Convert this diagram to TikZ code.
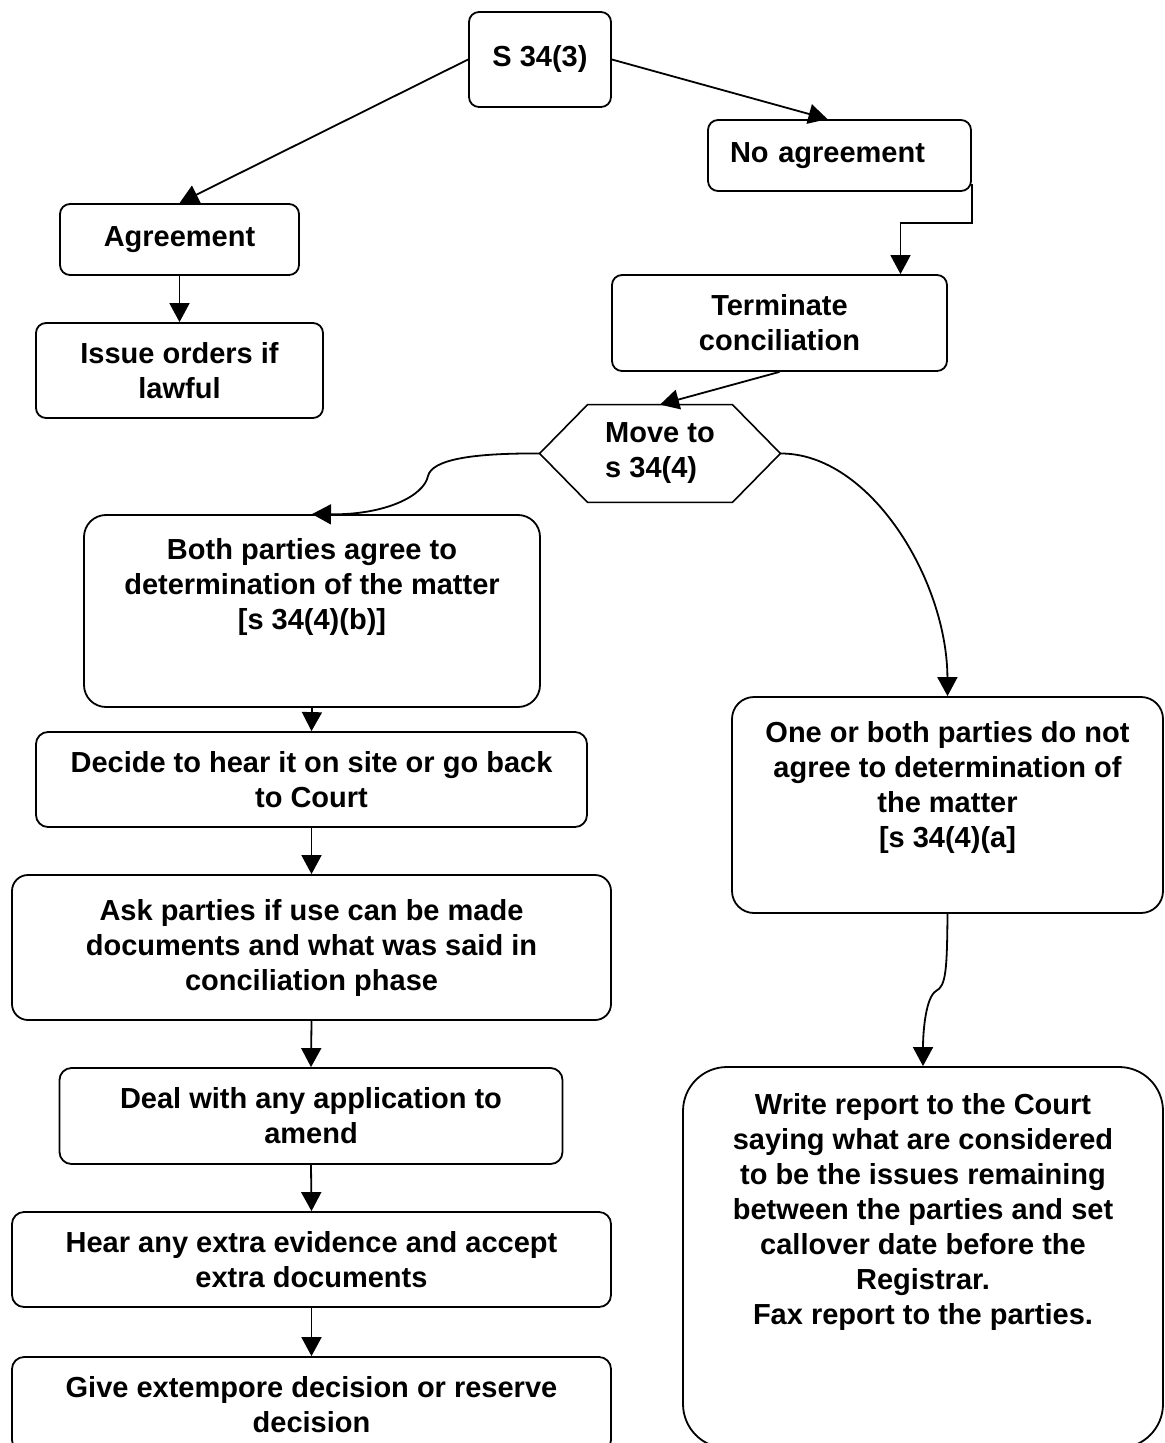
\documentclass[tikz,border=0pt]{standalone}
\usepackage{fontspec}
\setmainfont{Liberation Sans}
\usepackage{tikz}
\usetikzlibrary{arrows.meta,positioning}

\newcommand{\flowfont}{\fontsize{14.5}{17.5}\selectfont\bfseries}

\tikzset{
    stepbox/.style={draw, line width=0.9pt, rounded corners=5pt, inner sep=0pt, align=center, font=\flowfont},
    bigbox/.style={stepbox, rounded corners=11pt},
    flowtext/.style={inner sep=0pt, align=center, font=\flowfont},
    arr/.style={line width=0.9pt, -{Triangle[length=9.5pt,width=10pt]}},
}

\begin{document}
\begin{tikzpicture}[x=0.5pt, y=-0.5pt]
    \useasboundingbox (0,0) rectangle (1164,1443);

    \node[stepbox, minimum width=71pt, minimum height=47.5pt] (s343) at (540,59.5) {S 34(3)};
    \node[stepbox, align=left, inner xsep=11pt, text width=109.5pt, minimum height=35.5pt] (noagree) at (839.5,155.5) {No agreement};
    \node[stepbox, minimum width=119.5pt, minimum height=35.5pt] (agree) at (179.5,239.5) {Agreement};
    \node[stepbox, minimum width=143.5pt, minimum height=47.5pt] (issue) at (179.5,370.5) {Issue orders if\\lawful};
    \node[stepbox, minimum width=167.5pt, minimum height=48pt] (term) at (779.5,323) {Terminate\\conciliation};

    \node[flowtext, align=left, minimum width=120pt, minimum height=48.5pt] (move) at (660,453.5) {Move to\\s 34(4)};
    \draw[line width=0.8pt] (move.west) -- ([xshift=24pt]move.north west) -- ([xshift=-24pt]move.north east)
        -- (move.east) -- ([xshift=-24pt]move.south east) -- ([xshift=24pt]move.south west) -- cycle;

    \node[bigbox, minimum width=228pt, minimum height=96pt] (both) at (312,611) {};
    \node[flowtext, below=12pt of both.north] (bothtext) {Both parties agree to\\determination of the matter\\{}[s 34(4)(b)]};

    \node[stepbox, rounded corners=6pt, minimum width=275.5pt, minimum height=47.5pt] (decide) at (311.5,779.5) {Decide to hear it on site or go back\\to Court};
    \node[stepbox, rounded corners=8pt, minimum width=299.5pt, minimum height=72.5pt] (ask) at (311.5,947.5) {Ask parties if use can be made\\documents and what was said in\\conciliation phase};
    \node[stepbox, rounded corners=6pt, minimum width=251.5pt, minimum height=48pt] (deal) at (311,1116) {Deal with any application to\\amend};
    \node[stepbox, rounded corners=6pt, minimum width=299.5pt, minimum height=47.5pt] (hear) at (311.5,1259.5) {Hear any extra evidence and accept\\extra documents};
    \node[stepbox, rounded corners=6pt, minimum width=299.5pt, minimum height=47.5pt] (give) at (311.5,1404.5) {Give extempore decision or reserve\\decision};

    \node[bigbox, minimum width=215.5pt, minimum height=108pt] (one) at (947.5,805) {};
    \node[flowtext, below=12.5pt of one.north] (onetext) {One or both parties do not\\agree to determination of\\the matter\\{}[s 34(4)(a]};

    \node[stepbox, rounded corners=22pt, minimum width=240pt, minimum height=190.5pt] (write) at (923,1257.5) {};
    \node[flowtext, below=13.5pt of write.north] (writetext) {Write report to the Court\\saying what are considered\\to be the issues remaining\\between the parties and set\\callover date before the\\Registrar.\\Fax report to the parties.};

    \draw[arr] (s343.west) -- (agree.north);
    \draw[arr] (s343.east) -- ([xshift=-6pt]noagree.north);
    \draw[arr] (agree.south) -- (issue.north);
    \draw[arr] ([yshift=4pt]noagree.south east) -- ++(0,39) -| ([xshift=60.5pt]term.north);
    \draw[arr] (term.south) -- (move.north);
    \draw[arr] (move.west) .. controls (470,453) and (432,460) .. (428,476)
        .. controls (424,496) and (385,515) .. (both.north);
    \draw[arr] (move.east) .. controls (870,453) and (947,580) .. (one.north);
    \draw[arr] (both.south) -- (decide.north);
    \draw[arr] (decide.south) -- (ask.north);
    \draw[arr] (ask.south) -- (deal.north);
    \draw[arr] (deal.south) -- (hear.north);
    \draw[arr] (hear.south) -- (give.north);
    \draw[arr] (one.south) .. controls (947,970) and (946,986) .. (936,991)
        .. controls (926,997) and (923,1030) .. (write.north);
\end{tikzpicture}
\end{document}
